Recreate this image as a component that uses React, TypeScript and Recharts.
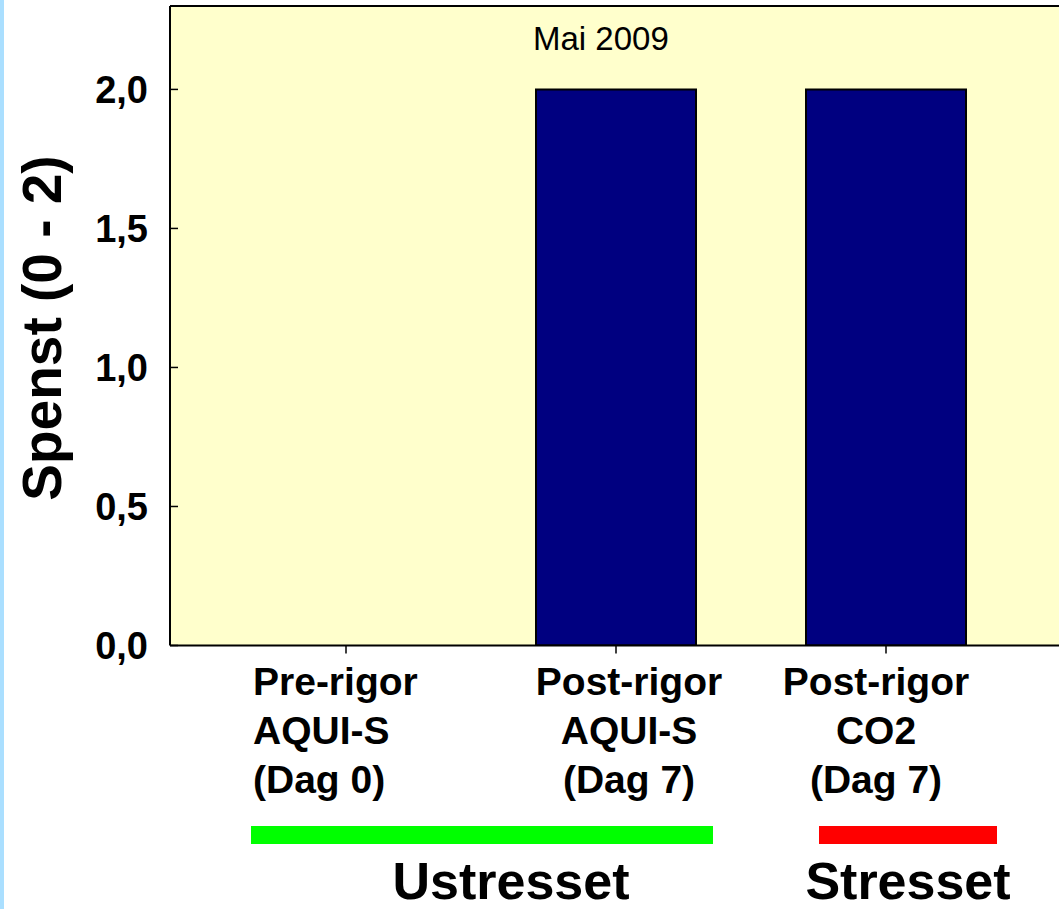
import { BarChart, Bar, XAxis, YAxis, CartesianGrid, ReferenceLine } from "recharts";

// categories, one label line per entry
const categoryLines = [
  ["Pre-rigor", "AQUI-S", "(Dag 0)"],
  ["Post-rigor", "AQUI-S", "(Dag 7)"],
  ["Post-rigor", "CO2", "(Dag 7)"],
];
const categories = categoryLines.map((l) => l.join(" "));
const spenst = [0, 2.0, 2.0];
const yTicks = [0, 0.5, 1.0, 1.5, 2.0];
const groupLabels = ["Ustresset", "Stresset"];
const title = "Mai 2009";
const yLabel = "Spenst (0 - 2)";

const FONT = '"Liberation Sans", Arial, Helvetica, sans-serif';

const rows = categories.map((cat, i) => ({ cat, spenst: spenst[i] }));

// how each multi-line label sits relative to its tick (copied from the slide)
const labelAlign = [
  { anchor: "start", dx: -93 },
  { anchor: "middle", dx: 13 },
  { anchor: "middle", dx: -10 },
];

function CategoryTick(props: any) {
  const { x, y, payload } = props;
  const lines = categoryLines[payload.index] ?? [String(payload.value)];
  const a = labelAlign[payload.index] ?? { anchor: "middle", dx: 0 };
  return (
    <text
      x={x + a.dx}
      y={y}
      textAnchor={a.anchor}
      fontFamily={FONT}
      fontSize={39}
      fontWeight={700}
      fill="#000"
    >
      {lines.map((t, i) => (
        <tspan key={i} x={x + a.dx} y={y + 41.5 + i * 49}>
          {t}
        </tspan>
      ))}
    </text>
  );
}

export default function App() {
  return (
    <div
      style={{
        position: "absolute",
        left: 0,
        top: 0,
        width: 1059,
        height: 909,
        overflow: "hidden",
        background: "#fff",
      }}
    >
      <div
        style={{
          position: "absolute",
          left: 0,
          top: 0,
          width: 4,
          height: 909,
          background: "#aadfff",
        }}
      />
      <div style={{ position: "absolute", left: 0, top: 0 }}>
        <BarChart
          width={1080}
          height={909}
          data={rows}
          margin={{ top: 6, right: 8, bottom: 0, left: 8 }}
          barSize={160}
        >
          <CartesianGrid
            fill="#FFFFCC"
            stroke="none"
            horizontal={false}
            vertical={false}
          />
          <XAxis
            dataKey="cat"
            height={263.5}
            padding={{ left: 41, right: 41 }}
            interval={0}
            tickSize={8}
            tickMargin={0}
            axisLine={{ stroke: "#000", strokeWidth: 2 }}
            tickLine={{ stroke: "#000", strokeWidth: 1.5 }}
            tick={<CategoryTick />}
          />
          <YAxis
            yAxisId="left"
            width={162}
            domain={[0, 2.3]}
            ticks={yTicks}
            allowDataOverflow
            tickSize={-8}
            tickMargin={30}
            tickFormatter={(v: number) => v.toFixed(1).replace(".", ",")}
            axisLine={{ stroke: "#000", strokeWidth: 2 }}
            tickLine={{ stroke: "#000", strokeWidth: 1.5 }}
            tick={{
              fontSize: 38,
              fontWeight: 700,
              fill: "#000",
              fontFamily: FONT,
            }}
          />
          <YAxis
            yAxisId="right"
            orientation="right"
            width={10}
            domain={[0, 2.3]}
            ticks={yTicks}
            allowDataOverflow
            tickSize={-8}
            tick={false}
            axisLine={{ stroke: "#000", strokeWidth: 2 }}
            tickLine={{ stroke: "#000", strokeWidth: 1.5 }}
          />
          <ReferenceLine
            yAxisId="left"
            y={2.3}
            stroke="#000"
            strokeWidth={2}
          />
          <Bar
            yAxisId="left"
            dataKey="spenst"
            fill="#000080"
            stroke="#000"
            strokeWidth={2}
            isAnimationActive={false}
          />
        </BarChart>
      </div>
      <svg
        width={1059}
        height={909}
        style={{ position: "absolute", left: 0, top: 0, pointerEvents: "none" }}
        fontFamily={FONT}
      >
        <text x={533} y={50} fontSize={33} fill="#000">
          {title}
        </text>
        <text
          transform="translate(61,328) rotate(-90)"
          textAnchor="middle"
          fontSize={55}
          fontWeight={700}
          fill="#000"
        >
          {yLabel}
        </text>
        <rect x={251} y={826} width={462} height={18} fill="#00ff00" />
        <rect x={819} y={826} width={178} height={18} fill="#ff0000" />
        <text
          x={511}
          y={899}
          textAnchor="middle"
          fontSize={52}
          fontWeight={700}
          fill="#000"
        >
          {groupLabels[0]}
        </text>
        <text
          x={908}
          y={899}
          textAnchor="middle"
          fontSize={52}
          fontWeight={700}
          fill="#000"
        >
          {groupLabels[1]}
        </text>
      </svg>
    </div>
  );
}
